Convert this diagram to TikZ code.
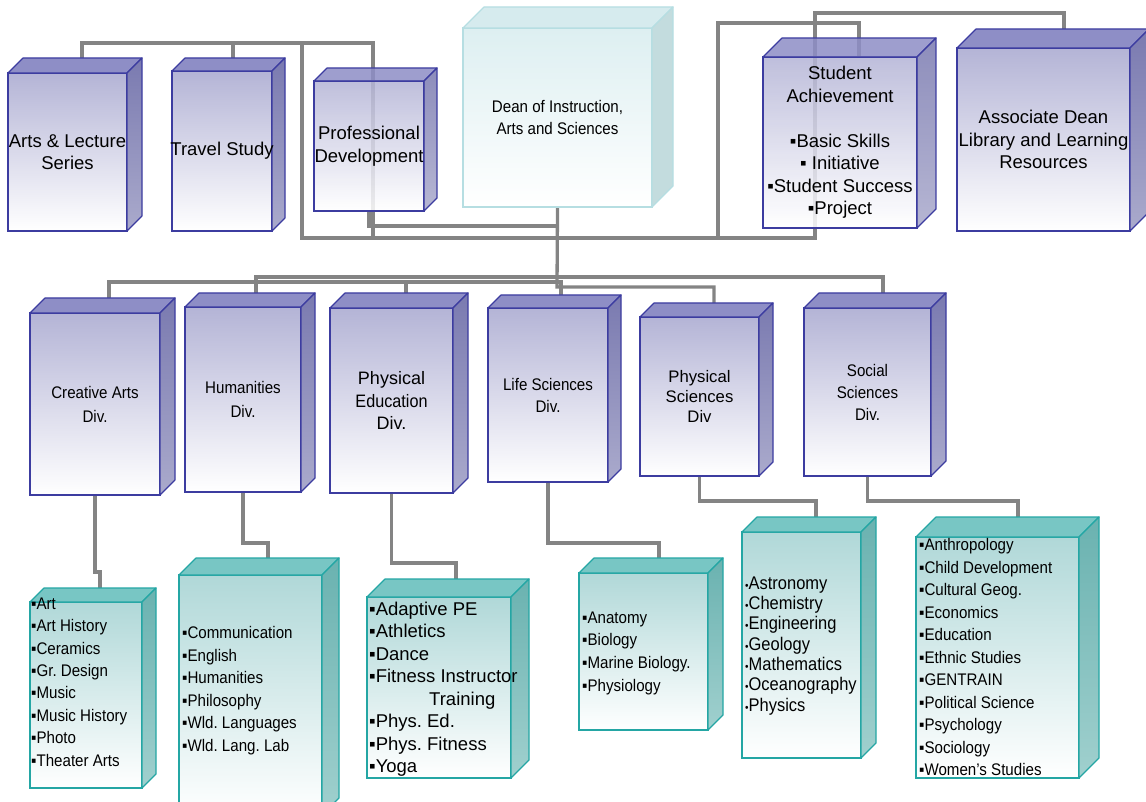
\documentclass[tikz,border=0pt]{standalone}
\usepackage{fontspec}
\setmainfont{Liberation Sans}
\newfontfamily\narrow[FakeStretch=0.9]{Liberation Sans}
\usetikzlibrary{calc}
\frenchspacing

\definecolor{blulid}{HTML}{8E8EC6}
\definecolor{blufront}{HTML}{B4B4D6}
\definecolor{bluside}{HTML}{7A7AB0}
\definecolor{bluside2}{HTML}{AAAACC}
\definecolor{bluline}{HTML}{3C3CA0}
\definecolor{teallid}{HTML}{78C6C4}
\definecolor{tealfront}{HTML}{B0D8D8}
\definecolor{tealside}{HTML}{6AB2B0}
\definecolor{tealside2}{HTML}{A0D0CE}
\definecolor{tealline}{HTML}{24A6A4}
\definecolor{deanlid}{HTML}{D6EBEE}
\definecolor{deanfront}{HTML}{DDEFF1}
\definecolor{deanside}{HTML}{C3DCDE}
\definecolor{deanline}{HTML}{B6DEE2}
\definecolor{wiregray}{HTML}{848484}

\pgfdeclarelayer{background}
\pgfsetlayers{background,main}

\tikzset{
  face blu/.style={draw=bluline, line width=1.2pt, top color=blufront, bottom color=white, anchor=north west, inner sep=0pt, outer sep=0pt},
  lid blu/.style={draw=bluline, line width=1.2pt, line join=round, fill=blulid},
  side blu/.style={draw=bluline, line width=1.2pt, line join=round, top color=bluside, bottom color=bluside2},
  face teal/.style={draw=tealline, line width=1.2pt, top color=tealfront, bottom color=white, anchor=north west, inner sep=0pt, outer sep=0pt},
  lid teal/.style={draw=tealline, line width=1.2pt, line join=round, fill=teallid},
  side teal/.style={draw=tealline, line width=1.2pt, line join=round, top color=tealside, bottom color=tealside2},
  face dean/.style={draw=deanline, line width=1.2pt, top color=deanfront, bottom color=white, anchor=north west, inner sep=0pt, outer sep=0pt},
  lid dean/.style={draw=deanline, line width=1.2pt, line join=round, fill=deanlid},
  side dean/.style={draw=deanline, line width=1.2pt, line join=round, fill=deanside},
  wire/.style={draw=wiregray, line width=3.3pt},
  big/.style={font=\fontsize{18.5}{22.5}\selectfont, align=center, inner sep=0pt},
  slim/.style={font=\narrow\fontsize{16.8}{22.5}\selectfont, align=center, inner sep=0pt},
  list/.style={font=\narrow\fontsize{16.8}{22.5}\selectfont, align=left, anchor=north west, inner sep=0pt},
}

% #1 look, #2 name, #3 front top left, #4 width, #5 height, #6 depth
\newcommand{\cuboid}[6][blu]{%
  \node[face #1, minimum width=#4pt, minimum height=#5pt] (#2) at (#3) {};
  \draw[lid #1] (#2.north west) -- ++(#6,-#6) -- ++(#4,0) -- (#2.north east) -- cycle;
  \draw[side #1] (#2.north east) -- ++(#6,-#6) -- ++(0,#5) -- (#2.south east) -- cycle;
}
\newcommand{\smalldot}{{\fontsize{11}{11}\selectfont •}}

\begin{document}
\begin{tikzpicture}[x=1pt, y=-1pt]
\useasboundingbox (0,0) rectangle (1146,802);

% top row
\cuboid{artl}{8,73}{119}{158}{15}
\cuboid{trvl}{172,71}{100}{160}{13}
\begin{scope}[fill opacity=.86]
\cuboid{prof}{314,81}{110}{130}{13}
\cuboid{stud}{763,57}{154}{171}{19}
\end{scope}
\cuboid[dean]{dean}{463,28}{189}{179}{21}
\cuboid{asso}{957,48}{173}{183}{19}

% divisions
\cuboid{crea}{30,313}{130}{182}{15}
\cuboid{huma}{185,307}{116}{185}{14}
\cuboid{pedu}{330,308}{123}{185}{15}
\cuboid{life}{488,308}{120}{174}{13}
\cuboid{phys}{640,317}{119}{159}{14}
\cuboid{soci}{804,308}{127}{168}{15}

% subjects
\cuboid[teal]{lcrea}{30,602}{112}{186}{14}
\cuboid[teal]{lhuma}{179,575}{143}{240}{17}
\cuboid[teal]{lpedu}{367,597}{144}{181}{18}
\cuboid[teal]{llife}{579,573}{129}{157}{15}
\cuboid[teal]{lphys}{742,532}{119}{226}{15}
\cuboid[teal]{lsoci}{916,537}{163}{241}{20}

% bends of the connectors
\coordinate (t1) at (82,43);
\coordinate (t2) at (373,43);
\coordinate (t3) at (233,43);
\coordinate (t4) at (302,43);
\coordinate (b1) at (302,238);
\coordinate (b2) at (815,238);
\coordinate (b3) at (373,238);
\coordinate (b4) at (718,238);
\coordinate (r1) at (815,13);
\coordinate (r2) at (1064,13);
\coordinate (s1) at (718,23);
\coordinate (s2) at (859,23);
\coordinate (d1) at (557,226);
\coordinate (m0) at (557,287);
\coordinate (m1) at (256,277);
\coordinate (m2) at (883,277);
\coordinate (m3) at (109,282);
\coordinate (m4) at (561,282);
\coordinate (m5) at (406,282);
\coordinate (m6) at (714,287);
\coordinate (k1) at (100,572);
\coordinate (k2) at (268,543);
\coordinate (k3) at (456,563);
\coordinate (k4) at (659,543);
\coordinate (k5) at (816,501);
\coordinate (k6) at (1018,501);

\begin{pgfonlayer}{background}
\draw[wire] (artl.north -| t1) -- (t1) -- (t2) -- (b3);
\draw[wire] (trvl.north -| t3) -- (t3);
\draw[wire] (t4) -- (b1) -- (b2) -- (r1) -- (r2) -- (asso.north -| r2);
\draw[wire] (b4) -- (s1) -- (s2) -- (stud.north -| s2);
\draw[wire] (prof.south) |- (d1);
\draw[wire] (dean.south) -- (m0) -- (m6) -- (phys.north -| m6);
\draw[wire] (huma.north -| m1) -- (m1) -- (m2) -- (soci.north -| m2);
\draw[wire] (crea.north -| m3) -- (m3) -- (m4) -- (life.north -| m4);
\draw[wire] (m5) -- (pedu.north -| m5);
\draw[wire] (crea.south) |- (k1) -- (lcrea.north -| k1);
\draw[wire] (huma.south) |- (k2) -- (lhuma.north -| k2);
\draw[wire] (pedu.south) |- (k3) -- (lpedu.north -| k3);
\draw[wire] (life.south) |- (k4) -- (llife.north -| k4);
\draw[wire] (phys.south) |- (k5) -- (lphys.north -| k5);
\draw[wire] (soci.south) |- (k6) -- (lsoci.north -| k6);
\end{pgfonlayer}

% texts
\node[big] (artl-txt) at (artl) {Arts \& Lecture\\Series};
\node[big] (trvl-txt) at (trvl) {Travel Study};
\node[big] (prof-txt) at (prof) {Professional\\Development};
\node[slim, font=\narrow\fontsize{16.8}{22}\selectfont] (dean-txt) at (dean) {Dean of Instruction,\\Arts and Sciences};
\node[big] (stud-txt) at (stud) {Student\\Achievement\\[22.5pt]▪Basic Skills\\▪ Initiative\\▪Student Success\\▪Project};
\node[big] (asso-txt) at (asso) {Associate Dean\\Library and Learning\\Resources};

\node[slim, font=\narrow\fontsize{16.8}{24}\selectfont] (crea-txt) at (crea) {Creative Arts\\Div.};
\node[slim, font=\narrow\fontsize{16.8}{24}\selectfont] (huma-txt) at (huma) {Humanities\\Div.};
\node[big, font=\fontsize{18}{22.5}\selectfont] (pedu-txt) at (pedu) {Physical\\\narrow Education\\\normalfont Div.};
\node[slim, font=\narrow\fontsize{16.8}{22}\selectfont] (life-txt) at (life) {Life Sciences\\Div.};
\node[big, font=\fontsize{16.7}{20}\selectfont] (phys-txt) at (phys) {Physical\\Sciences\\Div};
\node[slim, font=\narrow\fontsize{16.8}{22}\selectfont] (soci-txt) at (soci) {Social\\Sciences\\Div.};

\node[list, font=\narrow\fontsize{16.8}{22.4}\selectfont] (lcrea-txt) at (31,597.5) {▪Art\\▪Art History\\▪Ceramics\\▪Gr. Design\\▪Music\\▪Music History\\▪Photo\\▪Theater Arts};
\node[list] (lhuma-txt) at (182,626.5) {▪Communication\\▪English\\▪Humanities\\▪Philosophy\\▪Wld. Languages\\▪Wld. Lang. Lab};
\node[list, font=\fontsize{18.5}{22.5}\selectfont] (lpedu-txt) at (369,601.5) {▪Adaptive PE\\▪Athletics\\▪Dance\\▪Fitness Instructor\\\hspace*{60pt}Training\\▪Phys. Ed.\\▪Phys. Fitness\\▪Yoga};
\node[list, font=\narrow\fontsize{16.8}{22.6}\selectfont] (llife-txt) at (582,611.5) {▪Anatomy\\▪Biology\\▪Marine Biology.\\▪Physiology};
\node[list, font=\narrow\fontsize{18.3}{20.3}\selectfont] (lphys-txt) at (745,576.5) {\smalldot Astronomy\\\smalldot Chemistry\\\smalldot Engineering\\\smalldot Geology\\\smalldot Mathematics\\\smalldot Oceanography\\\smalldot Physics};
\node[list] (lsoci-txt) at (919,538.5) {▪Anthropology\\▪Child Development\\▪Cultural Geog.\\▪Economics\\▪Education\\▪Ethnic Studies\\▪GENTRAIN\\▪Political Science\\▪Psychology\\▪Sociology\\▪Women’s Studies};
\end{tikzpicture}
\end{document}
